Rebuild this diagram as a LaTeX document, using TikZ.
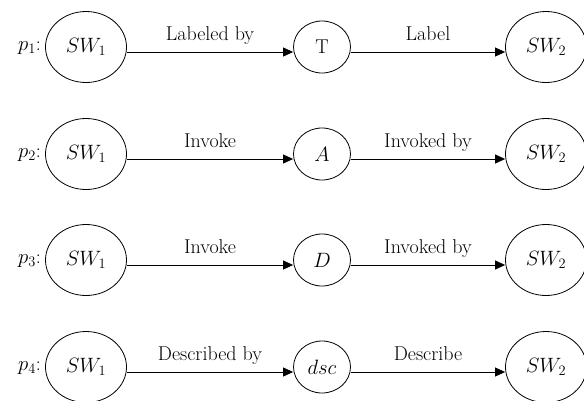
\documentclass[tikz,border=0pt]{standalone}
\usetikzlibrary{arrows.meta,shapes.geometric}

\begin{document}
\begin{tikzpicture}[x=1pt,y=-1pt,
	every node/.style={font=\fontsize{20}{24}\selectfont},
	swnode/.style={draw,ellipse,line width=0.8pt,inner sep=0pt,minimum width=81pt,minimum height=71pt},
	rolenode/.style={draw,ellipse,line width=0.8pt,inner sep=0pt,minimum width=57pt,minimum height=52pt},
	link/.style={line width=0.8pt,-{Triangle[length=10pt,width=9pt]}},
	linklabel/.style={above=3pt,text depth=5pt},
	pathlabel/.style={anchor=east,inner sep=0pt}]
	\useasboundingbox (0,0) rectangle (584,400);

	% p1
	\node[pathlabel] (p1) at (41,48) {$p_1$:};
	\node[swnode] (sw1a) at (86,47) {$SW_1$};
	\node[rolenode] (t) at (322,47) {T};
	\node[swnode] (sw2a) at (546,47) {$SW_2$};
	\draw[link] ([yshift=-5pt]sw1a.east) -- node[linklabel] {Labeled by} ([yshift=-5pt]t.west);
	\draw[link] ([yshift=-5pt]t.east) -- node[linklabel] {Label} ([yshift=-5pt]sw2a.west);

	% p2
	\node[pathlabel] (p2) at (41,155) {$p_2$:};
	\node[swnode] (sw1b) at (86,154) {$SW_1$};
	\node[rolenode] (a) at (322,154) {$A$};
	\node[swnode] (sw2b) at (546,154) {$SW_2$};
	\draw[link] ([yshift=-5pt]sw1b.east) -- node[linklabel] {Invoke} ([yshift=-5pt]a.west);
	\draw[link] ([yshift=-5pt]a.east) -- node[linklabel] {Invoked by} ([yshift=-5pt]sw2b.west);

	% p3
	\node[pathlabel] (p3) at (41,261) {$p_3$:};
	\node[swnode] (sw1c) at (86,260) {$SW_1$};
	\node[rolenode] (d) at (322,260) {$D$};
	\node[swnode] (sw2c) at (546,260) {$SW_2$};
	\draw[link] ([yshift=-5pt]sw1c.east) -- node[linklabel] {Invoke} ([yshift=-5pt]d.west);
	\draw[link] ([yshift=-5pt]d.east) -- node[linklabel] {Invoked by} ([yshift=-5pt]sw2c.west);

	% p4
	\node[pathlabel] (p4) at (41,368) {$p_4$:};
	\node[swnode] (sw1d) at (86,367) {$SW_1$};
	\node[rolenode] (dsc) at (322,367) {$dsc$};
	\node[swnode] (sw2d) at (546,367) {$SW_2$};
	\draw[link] ([yshift=-5pt]sw1d.east) -- node[linklabel] {Described by} ([yshift=-5pt]dsc.west);
	\draw[link] ([yshift=-5pt]dsc.east) -- node[linklabel] {Describe} ([yshift=-5pt]sw2d.west);
\end{tikzpicture}
\end{document}
